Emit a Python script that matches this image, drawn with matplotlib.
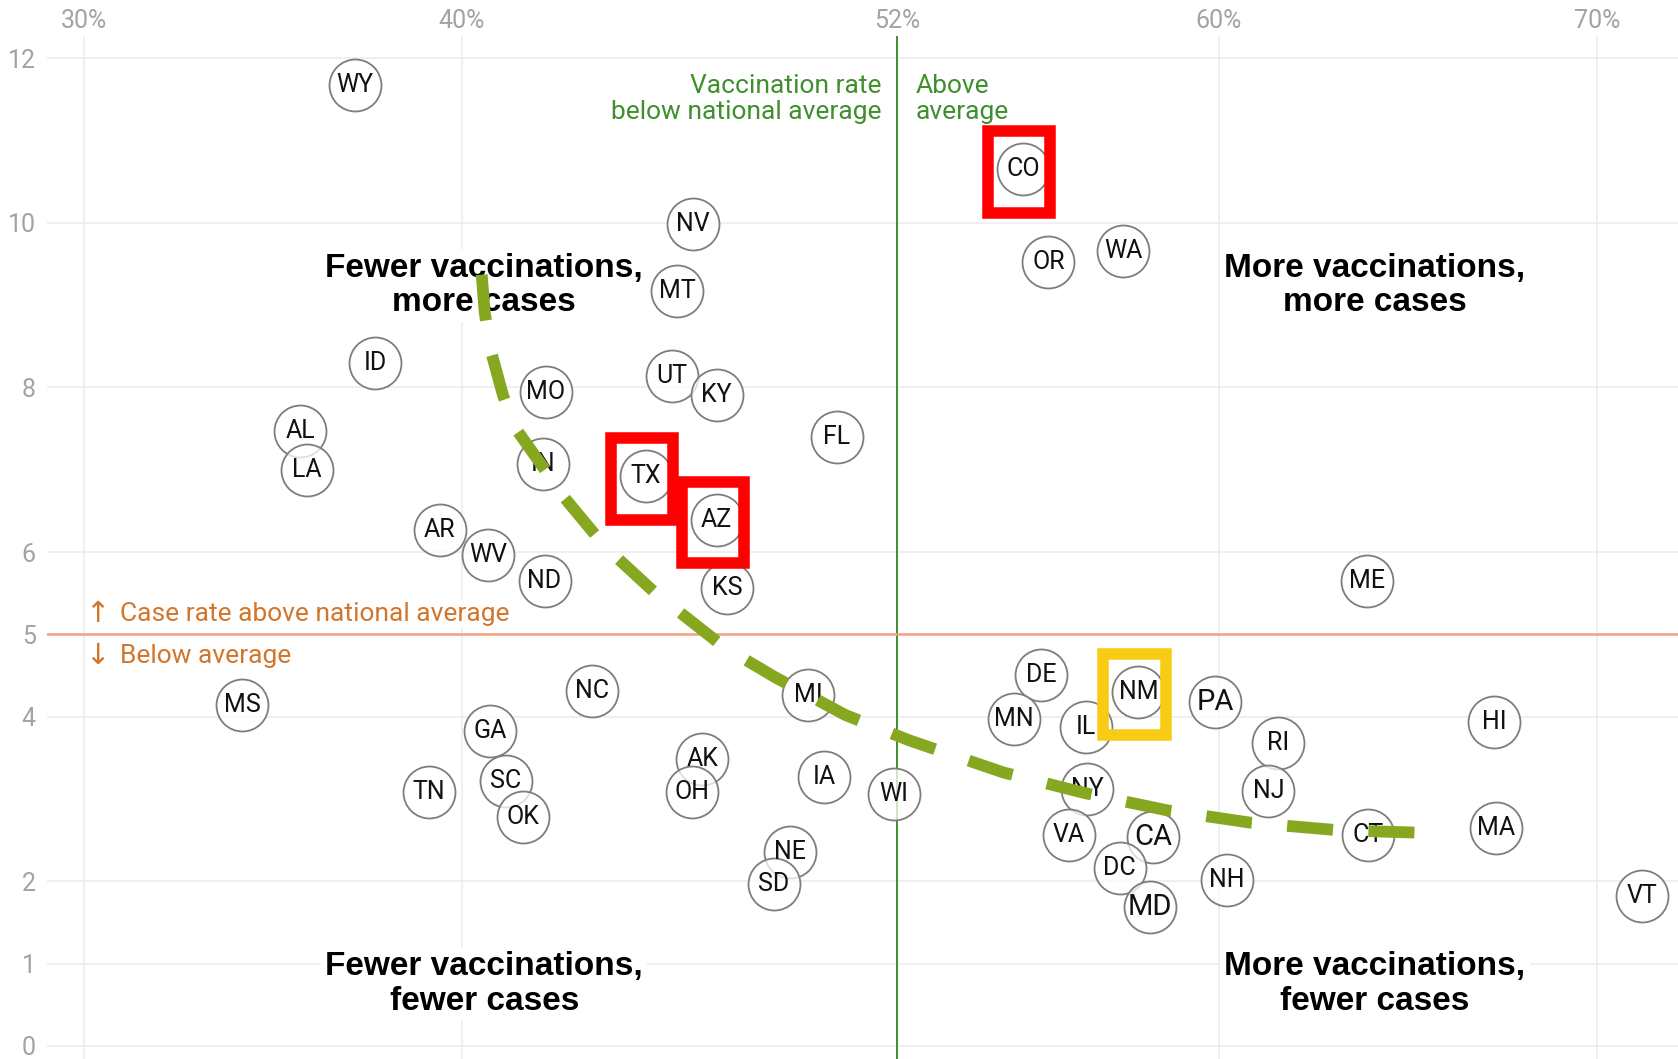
import matplotlib
matplotlib.use("Agg")
import matplotlib.pyplot as plt
from matplotlib.patches import Rectangle

# ---------------- data ----------------
states = ['WY', 'CO', 'NV', 'OR', 'WA', 'MT', 'ID', 'MO', 'UT', 'KY',
          'AL', 'LA', 'FL', 'IN', 'TX', 'AZ', 'AR', 'WV', 'ND', 'KS',
          'ME', 'MS', 'NC', 'MI', 'GA', 'AK', 'OH', 'IA', 'WI', 'TN',
          'SC', 'OK', 'NE', 'SD', 'DE', 'NM', 'PA', 'MN', 'IL', 'RI',
          'HI', 'NY', 'NJ', 'VA', 'CA', 'CT', 'MA', 'DC', 'NH', 'MD', 'VT']
vacc_rate = [37.17, 54.84, 46.11, 55.50, 57.48, 45.68, 37.70, 42.22, 45.54, 46.73,
             35.72, 35.91, 49.90, 42.13, 44.86, 46.73, 39.41, 40.68, 42.18, 47.00,
             63.91, 34.19, 43.43, 49.15, 40.74, 46.35, 46.09, 49.58, 51.42, 39.12,
             41.16, 41.61, 48.67, 48.24, 55.30, 57.88, 59.91, 54.59, 56.50, 61.58,
             67.28, 56.53, 61.31, 56.03, 58.26, 63.94, 67.34, 57.38, 60.21, 58.19, 71.19]
case_rate = [11.68, 10.65, 9.98, 9.52, 9.66, 9.17, 8.30, 7.95, 8.14, 7.91,
             7.47, 7.00, 7.40, 7.07, 6.92, 6.39, 6.27, 5.96, 5.65, 5.56,
             5.65, 4.14, 4.31, 4.26, 3.83, 3.48, 3.08, 3.27, 3.06, 3.09,
             3.22, 2.78, 2.36, 1.97, 4.51, 4.30, 4.18, 3.97, 3.88, 3.68,
             3.94, 3.12, 3.10, 2.56, 2.54, 2.56, 2.65, 2.16, 2.01, 1.69, 1.82]

red_boxes = ['CO', 'TX', 'AZ']
yellow_boxes = ['NM']

national_vacc = 51.5
national_vacc_label = '52%'
national_cases = 5.0

# hand-drawn trend line
trend_x = [40.52, 40.60, 40.74, 41.08, 41.39, 42.19, 42.58, 43.52, 44.05, 45.16,
           45.75, 46.91, 48.27, 50.13, 51.83, 54.32, 56.47, 58.65, 60.86, 63.15, 65.98]
trend_y = [9.37, 8.91, 8.48, 7.91, 7.52, 7.00, 6.73, 6.21, 5.95, 5.48,
           5.27, 4.85, 4.48, 4.02, 3.71, 3.32, 3.07, 2.86, 2.71, 2.62, 2.58]

x_ticks = [30, 40, national_vacc, 60, 70]
x_tick_labels = ['30%', '40%', national_vacc_label, '60%', '70%']
y_ticks = [0, 1, 2, 4, 5, 6, 8, 10, 12]
y_tick_labels = ['0', '1', '2', '4', '5', '6', '8', '10', '12']

# ---------------- style ----------------
REG = ['Roboto', 'DejaVu Sans']
BOLD = ['Liberation Sans', 'DejaVu Sans']
GREEN = '#3f8f2f'
ORANGE_TXT = '#d2762c'
ORANGE_LINE = '#f2a283'
GRID = '#ececec'
TICK = '#a3a3a3'
big_labels = {'PA', 'CA', 'MD'}

fig = plt.figure(figsize=(16.78, 10.59), dpi=100)
ax = fig.add_axes([47 / 1678, 0.0, 1 - 47 / 1678, 1 - 36 / 1059])
ax.set_xlim(29.03, 72.14)
ax.set_ylim(-0.16, 12.27)
for s in ax.spines.values():
    s.set_visible(False)

ax.set_xticks(x_ticks)
ax.set_xticklabels(x_tick_labels, family=REG, fontsize=18, color=TICK)
ax.set_yticks(y_ticks)
ax.set_yticklabels(y_tick_labels, family=REG, fontsize=18, color=TICK)
ax.xaxis.tick_top()
ax.tick_params(axis='x', length=0, pad=2)
ax.tick_params(axis='y', length=0, pad=8)
ax.grid(True, color=GRID, lw=1.2, zorder=0)
ax.set_axisbelow(True)

# reference lines
ax.axvline(national_vacc, color=GREEN, lw=1.4, zorder=1.5)
ax.axhline(national_cases, color=ORANGE_LINE, lw=1.8, zorder=2.5)

# annotations for lines
ax.text(national_vacc - 0.41, 11.50, 'Vaccination rate\nbelow national average',
        ha='right', va='center', family=REG, fontsize=19, color=GREEN,
        linespacing=1.1, zorder=2)
ax.text(national_vacc + 0.49, 11.50, 'Above\naverage',
        ha='left', va='center', family=REG, fontsize=19, color=GREEN,
        linespacing=1.1, zorder=2)

ax.text(30.36, 5.25, '\u2191', ha='center', va='center', family=REG,
        fontsize=21, color=ORANGE_TXT, zorder=2)
ax.text(30.36, 4.74, '\u2193', ha='center', va='center', family=REG,
        fontsize=21, color=ORANGE_TXT, zorder=2)
ax.text(30.96, 5.25, 'Case rate above national average', ha='left', va='center',
        family=REG, fontsize=19, color=ORANGE_TXT, zorder=2,
        bbox=dict(facecolor='white', edgecolor='none', pad=1))
ax.text(30.96, 4.74, 'Below average', ha='left', va='center',
        family=REG, fontsize=19, color=ORANGE_TXT, zorder=2,
        bbox=dict(facecolor='white', edgecolor='none', pad=1))

# quadrant labels (y = baseline of the second line)
quad = [(40.59, 8.93, 'Fewer vaccinations,\nmore cases'),
        (64.13, 8.93, 'More vaccinations,\nmore cases'),
        (40.59, 0.44, 'Fewer vaccinations,\nfewer cases'),
        (64.13, 0.44, 'More vaccinations,\nfewer cases')]
for qx, qy, qt in quad:
    ax.text(qx, qy, qt, ha='center', va='baseline', multialignment='center',
            family=BOLD, fontweight='bold', fontsize=24, color='black',
            linespacing=1.14, zorder=2,
            bbox=dict(facecolor='white', edgecolor='none', pad=3))

# state circles
ax.scatter(vacc_rate, case_rate, s=1400, facecolor=(1, 1, 1, 0.75),
           edgecolor='#7d7d7d', linewidth=1.3, zorder=3)
for st, vx, cy in zip(states, vacc_rate, case_rate):
    ax.text(vx, cy, st, ha='center', va='center', family=REG,
            fontsize=21 if st in big_labels else 18, color='#111111', zorder=4)

# trend line
ax.plot(trend_x, trend_y, color='#85a820', lw=8.5, dashes=(3.9, 3.0),
        solid_capstyle='butt', dash_capstyle='butt', zorder=5)

# highlight boxes (centred on the state's point)
box_w, box_h = 1.64, 0.99
box_dx, box_dy = -0.106, -0.03
for group, col in ((red_boxes, '#ff0000'), (yellow_boxes, '#f8cb15')):
    for st in group:
        i = states.index(st)
        cx = vacc_rate[i] + box_dx
        cy = case_rate[i] + box_dy
        ax.add_patch(Rectangle((cx - box_w / 2, cy - box_h / 2), box_w, box_h,
                               fill=False, edgecolor=col, lw=8.3,
                               joinstyle='miter', zorder=6))

fig.savefig('out.png', dpi=100, facecolor='white')
